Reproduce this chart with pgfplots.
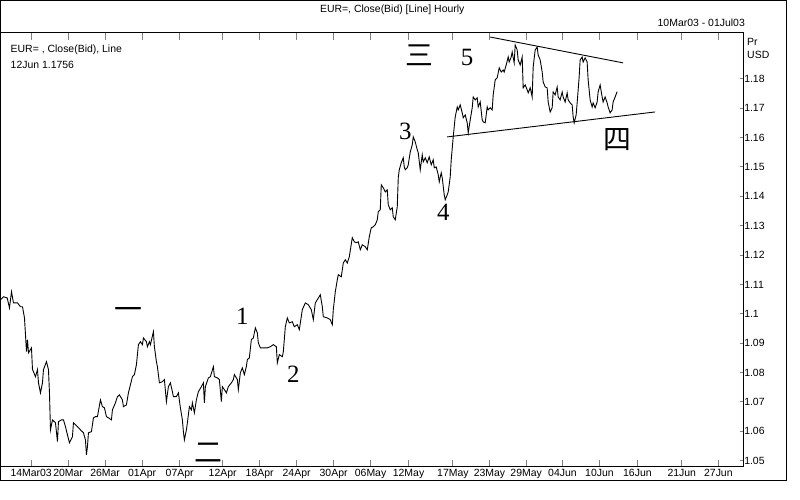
\documentclass[border=0pt]{standalone}
\usepackage{pgfplots}
\pgfplotsset{compat=1.18}
\usepackage{fontspec}
\setmainfont{Liberation Serif}
\newfontfamily\uisans{Liberation Sans}
\newfontfamily\cjk{Noto Sans CJK SC}

% x = hourly bar position (screen units of the original chart), y = EUR/USD close (bid)
\begin{document}
\begin{tikzpicture}[x=1bp,y=1bp]
\begin{axis}[
  name=main,
  scale only axis, width=743bp, height=434bp,
  xmin=0, xmax=743, ymin=1.04796, ymax=1.19558,
  axis line style={line width=1bp},
  xtick={30.7,67.7,104.7,141.7,179.3,222.3,259.3,296.3,333.3,370.3,408.3,452.7,489.3,526,562.3,599.3,637.3,681.7,718.3},
  xticklabels={14Mar03,20Mar,26Mar,01Apr,07Apr,12Apr,18Apr,24Apr,30Apr,06May,12May,17May,23May,29May,04Jun,10Jun,16Jun,21Jun,27Jun},
  xtick pos=both, xticklabel pos=lower,
  ytick={1.05,1.06,1.07,1.08,1.09,1.1,1.11,1.12,1.13,1.14,1.15,1.16,1.17,1.18},
  ytick pos=right, yticklabel pos=right,
  xtick style={line width=1bp,/pgfplots/major tick length=7bp},
  ytick style={line width=1bp,/pgfplots/major tick length=3bp},
  xticklabel style={font=\uisans\fontsize{10.5}{12}\selectfont,inner sep=0pt,yshift=-2bp},
  yticklabel style={font=\uisans\fontsize{10.5}{12}\selectfont,inner sep=0pt,anchor=west,xshift=1bp},
  /pgf/number format/.cd, fixed, precision=2, assume math mode=true,
]
\addplot[black, line width=0.9bp] coordinates {
(0,1.1048) (3,1.1058) (6.7,1.1054) (9,1.1020) (11,1.1075) (13,1.1037) (17,1.1037) (20,1.1024)
(22,1.1024) (24,1.0986) (26,1.0871) (27,1.0912) (28,1.0867) (31,1.0884) (32,1.0810) (33,1.0803)
(35,1.0786) (37,1.0810) (38,1.0765) (40,1.0731) (42,1.0765) (43,1.0810) (46,1.0837) (48,1.0810)
(49,1.0731) (50,1.0605) (52,1.0639) (55,1.0629) (57,1.0565) (58,1.0633) (61,1.0639) (63,1.0639)
(65,1.0616) (67,1.0588) (69,1.0561) (72,1.0582) (73,1.0629) (77,1.0616) (80,1.0605) (83,1.0595)
(85,1.0571) (86,1.0520) (87,1.0548) (88,1.0595) (91,1.0599) (93,1.0646) (95,1.0650) (97,1.0650)
(100,1.0707) (102,1.0684) (104,1.0680) (106,1.0650) (108,1.0646) (111,1.0639) (112,1.0673) (115,1.0697)
(117,1.0718) (119,1.0724) (122,1.0707) (123,1.0684) (126,1.0690) (128,1.0731) (132,1.0786) (134,1.0793)
(136,1.0827) (138,1.0895) (140,1.0905) (142,1.0895) (143,1.0918) (146,1.0905) (147,1.0888) (149,1.0905)
(150,1.0895) (153,1.0939) (154,1.0888) (156,1.0837) (157,1.0820) (159,1.0765) (162,1.0769) (164,1.0776)
(166,1.0701) (168,1.0752) (170,1.0765) (172,1.0735) (173,1.0718) (176,1.0718) (178,1.0731) (180,1.0680)
(182,1.0639) (183,1.0599) (184,1.0571) (186,1.0605) (187,1.0629) (189,1.0684) (191,1.0673) (192,1.0697)
(194,1.0663) (196,1.0707) (198,1.0735) (201,1.0752) (203,1.0765) (204,1.0697) (205,1.0752) (208,1.0782)
(210,1.0786) (213,1.0820) (214,1.0786) (217,1.0782) (219,1.0776) (221,1.0701) (222,1.0752) (224,1.0742)
(226,1.0731) (228,1.0752) (231,1.0765) (233,1.0776) (234,1.0793) (237,1.0776) (238,1.0742) (240,1.0799)
(242,1.0816) (244,1.0793) (246,1.0820) (247,1.0844) (249,1.0850) (251,1.0912) (253,1.0918) (255,1.0952)
(257,1.0935) (258,1.0901) (260,1.0884) (263,1.0884) (267,1.0884) (270,1.0888) (273,1.0895) (276,1.0888)
(277,1.0833) (279,1.0861) (282,1.0854) (283,1.0871) (285,1.0956) (287,1.0986) (289,1.0969) (292,1.0973)
(294,1.0956) (297,1.0963) (299,1.0946) (302,1.1014) (305,1.1037) (308,1.1031) (311,1.1014) (313,1.0980)
(315,1.1037) (317,1.1048) (320,1.1065) (322,1.1024) (323,1.0990) (327,1.0986) (330,1.0980) (332,1.0963)
(333,1.1014) (335,1.1075) (337,1.1116) (338,1.1133) (341,1.1126) (343,1.1173) (345,1.1184) (347,1.1173)
(349,1.1194) (352,1.1259) (354,1.1245) (356,1.1242) (358,1.1245) (360,1.1218) (362,1.1235) (365,1.1228)
(367,1.1218) (369,1.1262) (371,1.1293) (373,1.1296) (375,1.1303) (377,1.1320) (378,1.1347) (380,1.1354)
(381,1.1439) (383,1.1429) (385,1.1415) (387,1.1422) (388,1.1371) (390,1.1354) (392,1.1361) (393,1.1330)
(395,1.1320) (397,1.1364) (398,1.1463) (399,1.1490) (401,1.1514) (403,1.1531) (404,1.1500) (405,1.1490)
(407,1.1497) (408,1.1507) (410,1.1551) (412,1.1575) (413,1.1602) (415,1.1585) (417,1.1558) (418,1.1548)
(420,1.1490) (422,1.1541) (423,1.1517) (425,1.1531) (427,1.1514) (429,1.1534) (431,1.1507) (433,1.1524)
(434,1.1497) (436,1.1500) (438,1.1473) (439,1.1449) (441,1.1480) (442,1.1463) (444,1.1405) (445,1.1388)
(447,1.1405) (448,1.1415) (450,1.1466) (451,1.1524) (453,1.1602) (455,1.1670) (457,1.1704) (458,1.1694)
(460,1.1711) (462,1.1684) (463,1.1667) (465,1.1677) (467,1.1650) (468,1.1616) (470,1.1660) (472,1.1701)
(473,1.1738) (475,1.1728) (477,1.1735) (478,1.1704) (480,1.1721) (482,1.1660) (483,1.1653) (485,1.1650)
(487,1.1704) (488,1.1694) (490,1.1701) (492,1.1694) (493,1.1745) (495,1.1796) (497,1.1803) (499,1.1837)
(501,1.1823) (503,1.1830) (504,1.1823) (506,1.1847) (508,1.1874) (509,1.1857) (511,1.1874) (512,1.1891)
(514,1.1854) (515,1.1915) (517,1.1898) (518,1.1864) (520,1.1847) (522,1.1874) (523,1.1769) (525,1.1779)
(527,1.1762) (528,1.1752) (530,1.1769) (532,1.1738) (533,1.1840) (535,1.1898) (537,1.1908) (538,1.1881)
(540,1.1864) (542,1.1823) (543,1.1789) (545,1.1772) (547,1.1769) (548,1.1721) (550,1.1687) (552,1.1701)
(553,1.1755) (555,1.1745) (557,1.1772) (558,1.1738) (560,1.1728) (562,1.1755) (563,1.1738) (565,1.1721)
(567,1.1752) (568,1.1728) (570,1.1718) (572,1.1711) (573,1.1670) (574,1.1650) (576,1.1677) (577,1.1718)
(579,1.1806) (580,1.1864) (582,1.1874) (583,1.1857) (585,1.1871) (587,1.1857) (588,1.1796) (590,1.1728)
(592,1.1704) (593,1.1718) (595,1.1701) (597,1.1721) (598,1.1755) (600,1.1779) (602,1.1738) (603,1.1721)
(605,1.1738) (607,1.1718) (608,1.1704) (610,1.1684) (612,1.1694) (613,1.1721) (615,1.1738) (617,1.1756)
};
% triangle trend lines
\addplot[black, line width=0.9bp] coordinates {(490,1.1942) (623,1.1854)};
\addplot[black, line width=0.9bp] coordinates {(447,1.1602) (655,1.1687)};
% wave labels
\node[font=\cjk\fontsize{28}{28}\selectfont] at (axis cs:128,1.1000) {一};
\node[font=\cjk\fontsize{28}{28}\selectfont] at (axis cs:208,1.0527) {二};
\node[font=\cjk\fontsize{28}{28}\selectfont] at (axis cs:419,1.1880) {三};
\node[font=\cjk\fontsize{28}{28}\selectfont] at (axis cs:617,1.1592) {四};
\node[font=\fontsize{25}{25}\selectfont] at (axis cs:242,1.0990) {1};
\node[font=\fontsize{25}{25}\selectfont] at (axis cs:293,1.0793) {2};
\node[font=\fontsize{25}{25}\selectfont] at (axis cs:405,1.1622) {3};
\node[font=\fontsize{25}{25}\selectfont] at (axis cs:443,1.1344) {4};
\node[font=\fontsize{25}{25}\selectfont] at (axis cs:467,1.1874) {5};
\end{axis}
% window frame and header texts, placed from the axis' lower left corner
\begin{scope}[shift={(main.south west)}]
\path (0,-33) rectangle (800,467);
\draw[line width=1bp] (0.5,-14) rectangle (786,466.5);
\node[font=\uisans\fontsize{10.5}{12}\selectfont] at (392,457) {EUR=, Close(Bid) [Line] Hourly};
\node[font=\uisans\fontsize{10.5}{12}\selectfont,anchor=east,inner sep=0pt] at (745,444) {10Mar03 - 01Jul03};
\node[font=\uisans\fontsize{10.5}{12}\selectfont,anchor=west,inner sep=0pt] at (10,417) {EUR= , Close(Bid), Line};
\node[font=\uisans\fontsize{10.5}{12}\selectfont,anchor=west,inner sep=0pt] at (10,402) {12Jun 1.1756};
\node[font=\uisans\fontsize{10.5}{12}\selectfont,anchor=west,inner sep=0pt] at (747,425) {Pr};
\node[font=\uisans\fontsize{10.5}{12}\selectfont,anchor=west,inner sep=0pt] at (747,412) {USD};
\end{scope}
\end{tikzpicture}
\end{document}
